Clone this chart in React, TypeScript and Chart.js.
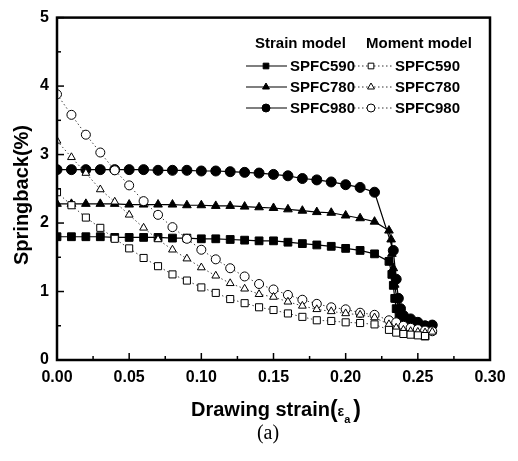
import React, { useEffect, useRef } from "react";
import { Chart, registerables } from "chart.js";

Chart.register(...registerables);

// ---------- data ----------
const baseX = [0, 0.01, 0.02, 0.03, 0.04, 0.05, 0.06, 0.07, 0.08, 0.09, 0.1, 0.11, 0.12, 0.13, 0.14, 0.15, 0.16, 0.17, 0.18, 0.19, 0.2, 0.21, 0.22];

const strain590X = [...baseX, 0.23, 0.232, 0.233, 0.234, 0.235, 0.237, 0.24, 0.245, 0.25, 0.255];
const strain590Y = [1.8, 1.8, 1.8, 1.8, 1.79, 1.79, 1.79, 1.79, 1.78, 1.78, 1.77, 1.77, 1.76, 1.75, 1.74, 1.74, 1.72, 1.7, 1.68, 1.66, 1.63, 1.6, 1.55, 1.44, 1.25, 1.09, 0.9, 0.75, 0.62, 0.52, 0.44, 0.38, 0.35];

const strain780X = [...baseX, 0.23, 0.2315, 0.232, 0.233, 0.234, 0.2355, 0.237, 0.24, 0.245, 0.25, 0.255, 0.26];
const strain780Y = [2.28, 2.28, 2.28, 2.28, 2.28, 2.27, 2.27, 2.27, 2.27, 2.26, 2.26, 2.25, 2.25, 2.24, 2.23, 2.22, 2.2, 2.18, 2.16, 2.15, 2.11, 2.07, 2.02, 1.89, 1.76, 1.55, 1.34, 1.1, 0.88, 0.72, 0.6, 0.52, 0.46, 0.43, 0.43];

const strain980X = [...baseX, 0.233, 0.235, 0.2365, 0.238, 0.24, 0.245, 0.25, 0.255, 0.26];
const strain980Y = [2.78, 2.78, 2.78, 2.78, 2.78, 2.78, 2.78, 2.77, 2.77, 2.77, 2.76, 2.76, 2.75, 2.74, 2.73, 2.71, 2.69, 2.65, 2.63, 2.6, 2.56, 2.52, 2.45, 1.6, 1.18, 0.9, 0.75, 0.65, 0.6, 0.55, 0.5, 0.51];

const moment590X = [...baseX, 0.23, 0.235, 0.24, 0.245, 0.25, 0.255];
const moment590Y = [2.45, 2.26, 2.08, 1.93, 1.77, 1.63, 1.49, 1.37, 1.25, 1.16, 1.06, 0.98, 0.89, 0.83, 0.77, 0.73, 0.68, 0.63, 0.58, 0.57, 0.55, 0.54, 0.52, 0.44, 0.4, 0.38, 0.37, 0.36, 0.35];

const moment780X = [...baseX, 0.23, 0.235, 0.24, 0.245, 0.25, 0.255, 0.26];
const moment780Y = [3.2, 2.96, 2.73, 2.49, 2.31, 2.12, 1.93, 1.76, 1.61, 1.48, 1.35, 1.23, 1.12, 1.04, 0.96, 0.92, 0.85, 0.79, 0.74, 0.71, 0.68, 0.66, 0.62, 0.52, 0.47, 0.44, 0.42, 0.41, 0.4, 0.41];

const moment980X = [...baseX, 0.23, 0.235, 0.24, 0.245, 0.25, 0.255, 0.26];
const moment980Y = [3.88, 3.58, 3.29, 3.03, 2.77, 2.55, 2.32, 2.12, 1.94, 1.77, 1.61, 1.47, 1.34, 1.22, 1.11, 1.03, 0.95, 0.88, 0.82, 0.77, 0.74, 0.69, 0.66, 0.58, 0.55, 0.5, 0.47, 0.45, 0.43, 0.42];

const seriesLabels = ["SPFC590", "SPFC780", "SPFC980"];
const markerStyles = ["rect", "triangle", "circle"];
const legendHeaders = ["Strain model", "Moment model"];
const yTitle = "Springback(%)";
const xTitleMain = "Drawing strain";
const xTitleOpen = "(";
const xTitleEps = "ε";
const xTitleSub = "a";
const xTitleEnd = ")";
const caption = "(a)";

const FONT = '"Liberation Sans", Arial, Helvetica, sans-serif';

function pts(xs: number[], ys: number[]) {
  return xs.map((x, i) => ({ x, y: ys[i] }));
}

function drawMarker(ctx: CanvasRenderingContext2D, style: string, x: number, y: number, r: number, filled: boolean) {
  ctx.beginPath();
  if (style === "rect") {
    const s = Math.SQRT1_2 * r;
    ctx.rect(x - s, y - s, 2 * s, 2 * s);
  } else if (style === "triangle") {
    let rad = 0;
    ctx.moveTo(x + Math.sin(rad) * r, y - Math.cos(rad) * r);
    rad += (2 * Math.PI) / 3;
    ctx.lineTo(x + Math.sin(rad) * r, y - Math.cos(rad) * r);
    rad += (2 * Math.PI) / 3;
    ctx.lineTo(x + Math.sin(rad) * r, y - Math.cos(rad) * r);
    ctx.closePath();
  } else {
    ctx.arc(x, y, r, 0, Math.PI * 2);
  }
  ctx.fillStyle = filled ? "#000" : "#fff";
  ctx.fill();
  ctx.strokeStyle = "#000";
  ctx.lineWidth = 1;
  ctx.setLineDash([]);
  ctx.stroke();
}

const framePlugin = {
  id: "frameTicks",
  afterDraw(chart: any) {
    const ctx: CanvasRenderingContext2D = chart.ctx;
    const { left, right, top, bottom } = chart.chartArea;
    const xs = chart.scales.x;
    const ys = chart.scales.y;
    ctx.save();
    ctx.strokeStyle = "#000";
    ctx.lineWidth = 1.5;
    ctx.setLineDash([]);
    for (let i = 0; i <= 12; i++) {
      const px = xs.getPixelForValue(i * 0.025);
      const len = i % 2 === 0 ? 7 : 4;
      ctx.beginPath();
      ctx.moveTo(px, bottom);
      ctx.lineTo(px, bottom - len);
      ctx.stroke();
    }
    for (let i = 0; i <= 10; i++) {
      const py = ys.getPixelForValue(i * 0.5);
      const len = i % 2 === 0 ? 7 : 4;
      ctx.beginPath();
      ctx.moveTo(left, py);
      ctx.lineTo(left + len, py);
      ctx.stroke();
    }
    ctx.lineWidth = 2.5;
    ctx.strokeRect(left, top, right - left, bottom - top);

    // y title
    ctx.fillStyle = "#000";
    ctx.font = `bold 20px ${FONT}`;
    ctx.textAlign = "center";
    ctx.textBaseline = "middle";
    ctx.save();
    ctx.translate(22, 195);
    ctx.rotate(-Math.PI / 2);
    ctx.fillText(yTitle, 0, 0);
    ctx.restore();

    // x title with subscript
    ctx.textAlign = "left";
    ctx.textBaseline = "alphabetic";
    const fMain = `bold 20px ${FONT}`;
    const fParen = `bold 23px ${FONT}`;
    const fEps = `bold 14px ${FONT}`;
    const fSub = `bold 11px ${FONT}`;
    ctx.font = fMain;
    const wMain = ctx.measureText(xTitleMain).width;
    ctx.font = fParen;
    const wOpen = ctx.measureText(xTitleOpen).width;
    const wEnd = ctx.measureText(xTitleEnd).width;
    ctx.font = fEps;
    const wEps = ctx.measureText(xTitleEps).width;
    ctx.font = fSub;
    const wSub = ctx.measureText(xTitleSub).width;
    const total = wMain + wOpen + wEps + wSub + wEnd + 3;
    let x0 = 276 - total / 2;
    const base = 416;
    ctx.font = fMain;
    ctx.fillText(xTitleMain, x0, base);
    x0 += wMain;
    ctx.font = fParen;
    ctx.fillText(xTitleOpen, x0, base + 1);
    x0 += wOpen;
    ctx.font = fEps;
    ctx.fillText(xTitleEps, x0, base);
    x0 += wEps;
    ctx.font = fSub;
    ctx.fillText(xTitleSub, x0, base + 7);
    x0 += wSub + 3;
    ctx.font = fParen;
    ctx.fillText(xTitleEnd, x0, base + 1);

    // caption
    ctx.font = `20px "Liberation Serif", "DejaVu Serif", serif`;
    ctx.textAlign = "center";
    ctx.textBaseline = "middle";
    ctx.fillText(caption, 268, 434);

    // legend
    ctx.textAlign = "left";
    ctx.font = `bold 15px ${FONT}`;
    ctx.fillText(legendHeaders[0], 255, 44);
    ctx.fillText(legendHeaders[1], 366, 44);
    for (let i = 0; i < 3; i++) {
      const y = 66 + i * 21;
      ctx.strokeStyle = "#000";
      ctx.lineWidth = 1.2;
      ctx.setLineDash([]);
      ctx.beginPath();
      ctx.moveTo(246, y);
      ctx.lineTo(287, y);
      ctx.stroke();
      drawMarker(ctx, markerStyles[i], 266, y, 4, true);
      ctx.fillStyle = "#000";
      ctx.font = `bold 15px ${FONT}`;
      ctx.fillText(seriesLabels[i], 290, y + 1);
      ctx.strokeStyle = "#333";
      ctx.lineWidth = 1;
      ctx.setLineDash([1.5, 2.5]);
      ctx.beginPath();
      ctx.moveTo(354, y);
      ctx.lineTo(392, y);
      ctx.stroke();
      drawMarker(ctx, markerStyles[i], 371, y, 4, false);
      ctx.fillStyle = "#000";
      ctx.fillText(seriesLabels[i], 395, y + 1);
    }
    ctx.restore();
  },
};

export default function App() {
  const ref = useRef<HTMLCanvasElement | null>(null);
  useEffect(() => {
    if (!ref.current) return;
    const momentDs = (xs: number[], ys: number[], i: number) => ({
      label: "Moment " + seriesLabels[i],
      data: pts(xs, ys),
      borderColor: "#444",
      borderWidth: 1,
      borderDash: [1.5, 2.5],
      pointStyle: markerStyles[i],
      pointRadius: i === 0 ? 5 : 4.5,
      pointBackgroundColor: "#fff",
      pointBorderColor: "#000",
      pointBorderWidth: 1,
      backgroundColor: "#fff",
      tension: 0,
    });
    const strainDs = (xs: number[], ys: number[], i: number) => ({
      label: "Strain " + seriesLabels[i],
      data: pts(xs, ys),
      borderColor: "#000",
      borderWidth: 1.2,
      pointStyle: markerStyles[i],
      pointRadius: i === 0 ? 5.5 : 5,
      pointBackgroundColor: "#000",
      pointBorderColor: "#000",
      pointBorderWidth: 1,
      backgroundColor: "#000",
      tension: 0,
    });
    const chart = new Chart(ref.current, {
      type: "line",
      data: {
        datasets: [
          momentDs(moment590X, moment590Y, 0),
          momentDs(moment780X, moment780Y, 1),
          momentDs(moment980X, moment980Y, 2),
          strainDs(strain590X, strain590Y, 0),
          strainDs(strain780X, strain780Y, 1),
          strainDs(strain980X, strain980Y, 2),
        ] as any,
      },
      options: {
        responsive: false,
        animation: false,
        layout: { padding: { top: 13, right: 28, left: 0, bottom: 0 } },
        plugins: { legend: { display: false }, tooltip: { enabled: false } },
        scales: {
          x: {
            type: "linear",
            min: 0,
            max: 0.3,
            grid: { display: false, drawTicks: false },
            border: { display: false },
            ticks: {
              stepSize: 0.05,
              padding: 8,
              color: "#000",
              font: { family: FONT, size: 16, weight: "bold" },
              callback: (v: any) => Number(v).toFixed(2),
              maxRotation: 0,
            },
            afterFit: (s: any) => {
              s.height = 101;
            },
          },
          y: {
            type: "linear",
            min: 0,
            max: 5,
            grid: { display: false, drawTicks: false },
            border: { display: false },
            ticks: {
              stepSize: 1,
              padding: 8,
              color: "#000",
              font: { family: FONT, size: 16, weight: "bold" },
            },
            afterFit: (s: any) => {
              s.width = 57;
            },
          },
        },
      } as any,
      plugins: [framePlugin],
    });
    return () => chart.destroy();
  }, []);
  return (
    <div style={{ margin: "-8px", width: 518, height: 461, position: "relative", background: "#fff" }}>
      <canvas ref={ref} width={518} height={461} style={{ width: 518, height: 461, display: "block" }} />
    </div>
  );
}
